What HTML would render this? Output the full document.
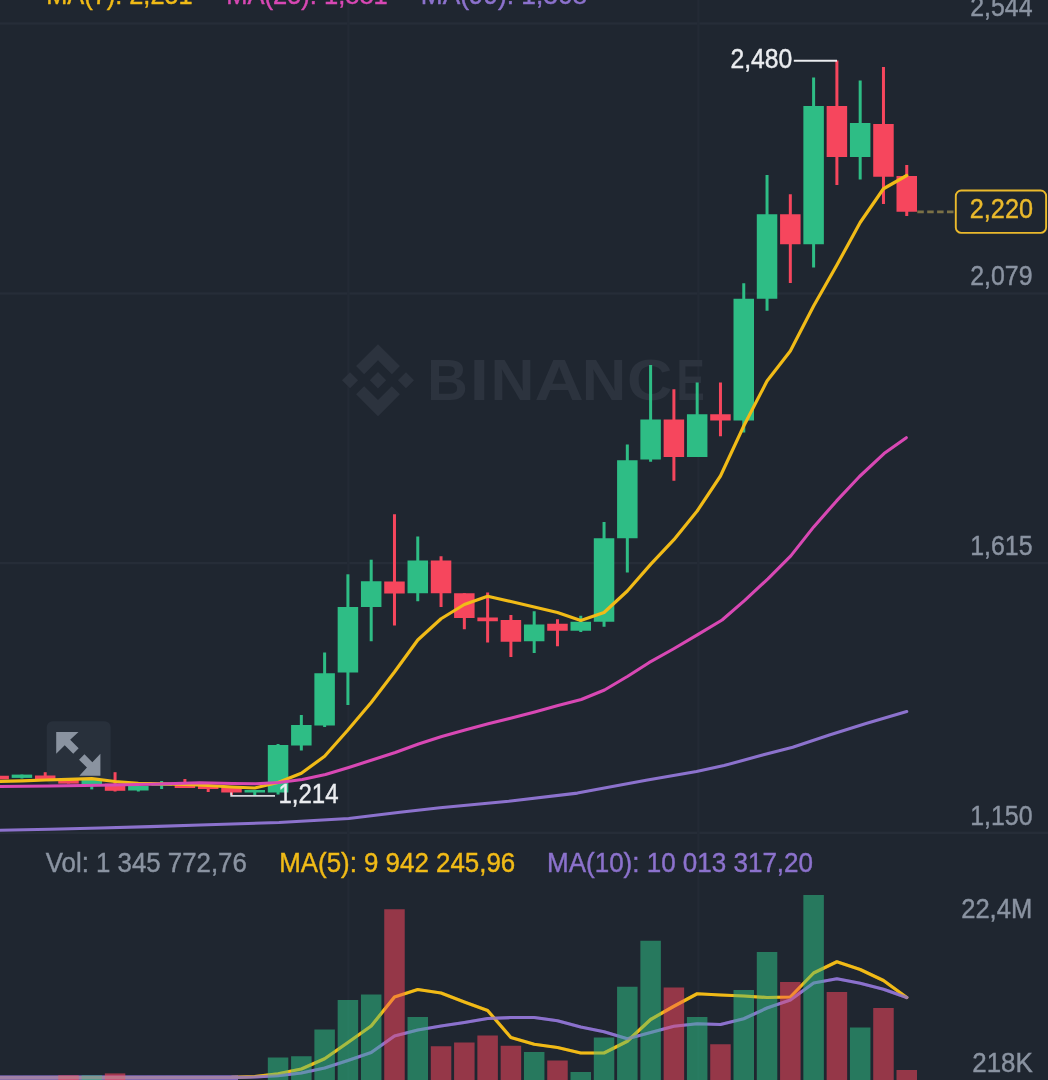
<!DOCTYPE html>
<html><head><meta charset="utf-8"><title>Chart</title>
<style>
html,body{margin:0;padding:0;background:#1f2630;}
body{width:1048px;height:1080px;overflow:hidden;font-family:"Liberation Sans",sans-serif;}
svg{display:block;position:absolute;left:0;top:0;}
svg.ov{will-change:transform;}
text{font-family:"Liberation Sans",sans-serif;}
.t{stroke-width:0.45px;paint-order:stroke;}
</style></head><body>
<svg width="1048" height="1080" viewBox="0 0 1048 1080">
<rect width="1048" height="1080" fill="#1f2630"/>
<rect x="0" y="22.3" width="1048" height="2.4" fill="#262d38"/>
<rect x="0" y="292.3" width="1048" height="2.4" fill="#262d38"/>
<rect x="0" y="561.9" width="1048" height="2.4" fill="#262d38"/>
<rect x="0" y="831.6" width="1048" height="2.4" fill="#262d38"/>
<rect x="347.1" y="0" width="2.4" height="1080" fill="#232a35"/>
<rect x="697.0999999999999" y="0" width="2.4" height="1080" fill="#232a35"/>
<g fill="#2c333e" transform="translate(378,380.2) scale(0.572)">
<path d="M-24.2,-10.6 L0,-34.8 L24.2,-10.6 L38.3,-24.7 L0,-63 L-38.3,-24.7 Z"/>
<path d="M-63,0 L-48.9,-14.1 L-34.8,0 L-48.9,14.1 Z"/>
<path d="M-24.2,10.6 L0,34.8 L24.2,10.6 L38.3,24.7 L0,63 L-38.3,24.7 Z"/>
<path d="M34.8,0 L48.9,-14.1 L63,0 L48.9,14.1 Z"/>
<path d="M14.3,0 L0,-14.3 L-10.6,-3.7 L-11.8,-2.5 L-14.3,0 L0,14.3 Z"/>
</g>
<text transform="translate(427.19,400.4) scale(0.968,1)" font-size="58" font-weight="bold" fill="#2c333e">B</text><text transform="translate(469.85,400.4) scale(1.189,1)" font-size="58" font-weight="bold" fill="#2c333e">I</text><text transform="translate(490.39,400.4) scale(1.048,1)" font-size="58" font-weight="bold" fill="#2c333e">N</text><text transform="translate(534.56,400.4) scale(1.175,1)" font-size="58" font-weight="bold" fill="#2c333e">A</text><text transform="translate(581.73,400.4) scale(1.063,1)" font-size="58" font-weight="bold" fill="#2c333e">N</text><text transform="translate(627.12,400.4) scale(1.084,1)" font-size="58" font-weight="bold" fill="#2c333e">C</text><text transform="translate(676.60,400.4) scale(0.730,1)" font-size="58" font-weight="bold" fill="#2c333e">E</text>
<rect x="46.7" y="721.2" width="64" height="64" rx="6" fill="#28303b"/>
<g fill="#8a93a0">
<path d="M56.2,731.9 L78.5,731.9 L70.15,739.8 L78.65,748.3 L73.25,753.7 L64.75,745.2 L56.2,753.8 Z"/>
<path d="M100.4,775.7 L79.4,775.7 L86.95,767.6 L79.05,759.7 L84.45,754.3 L92.35,762.2 L100.4,753.8 Z"/>
</g>
<rect x="905.25" y="165" width="3" height="51" fill="#f6465d"/>
<rect x="896.5" y="176" width="20.5" height="35.75" fill="#f6465d"/>
<rect x="881.965" y="67" width="3" height="137" fill="#f6465d"/>
<rect x="873.215" y="124" width="20.5" height="52.75" fill="#f6465d"/>
<rect x="858.68" y="80.5" width="3" height="99" fill="#2ebd85"/>
<rect x="849.93" y="123" width="20.5" height="34" fill="#2ebd85"/>
<rect x="835.395" y="60.5" width="3" height="124.5" fill="#f6465d"/>
<rect x="826.645" y="106" width="20.5" height="51" fill="#f6465d"/>
<rect x="812.11" y="77.5" width="3" height="190" fill="#2ebd85"/>
<rect x="803.36" y="106" width="20.5" height="138.25" fill="#2ebd85"/>
<rect x="788.825" y="194.25" width="3" height="88.75" fill="#f6465d"/>
<rect x="780.075" y="214.25" width="20.5" height="30" fill="#f6465d"/>
<rect x="765.54" y="175" width="3" height="135.75" fill="#2ebd85"/>
<rect x="756.79" y="214.25" width="20.5" height="84.5" fill="#2ebd85"/>
<rect x="742.255" y="283.25" width="3" height="149.25" fill="#2ebd85"/>
<rect x="733.505" y="298.75" width="20.5" height="121.75" fill="#2ebd85"/>
<rect x="718.97" y="382.5" width="3" height="53.75" fill="#f6465d"/>
<rect x="710.22" y="414.25" width="20.5" height="6.25" fill="#f6465d"/>
<rect x="695.685" y="382.5" width="3" height="74.5" fill="#2ebd85"/>
<rect x="686.935" y="414.25" width="20.5" height="42.75" fill="#2ebd85"/>
<rect x="672.4" y="389.25" width="3" height="91.5" fill="#f6465d"/>
<rect x="663.65" y="419.5" width="20.5" height="37.5" fill="#f6465d"/>
<rect x="649.115" y="365" width="3" height="96.75" fill="#2ebd85"/>
<rect x="640.365" y="419.5" width="20.5" height="40" fill="#2ebd85"/>
<rect x="625.83" y="444.5" width="3" height="128" fill="#2ebd85"/>
<rect x="617.08" y="460.25" width="20.5" height="78" fill="#2ebd85"/>
<rect x="602.545" y="522" width="3" height="104.75" fill="#2ebd85"/>
<rect x="593.795" y="538.25" width="20.5" height="83.5" fill="#2ebd85"/>
<rect x="579.26" y="615.75" width="3" height="16.25" fill="#2ebd85"/>
<rect x="570.51" y="621.75" width="20.5" height="9" fill="#2ebd85"/>
<rect x="555.975" y="619.25" width="3" height="27" fill="#f6465d"/>
<rect x="547.225" y="623.75" width="20.5" height="7" fill="#f6465d"/>
<rect x="532.69" y="611.25" width="3" height="41.75" fill="#2ebd85"/>
<rect x="523.94" y="624.5" width="20.5" height="16.75" fill="#2ebd85"/>
<rect x="509.405" y="615" width="3" height="42" fill="#f6465d"/>
<rect x="500.655" y="620" width="20.5" height="21.75" fill="#f6465d"/>
<rect x="486.12" y="592.5" width="3" height="50" fill="#f6465d"/>
<rect x="477.37" y="617.5" width="20.5" height="3.75" fill="#f6465d"/>
<rect x="462.835" y="593.25" width="3" height="36" fill="#f6465d"/>
<rect x="454.085" y="593.25" width="20.5" height="24.75" fill="#f6465d"/>
<rect x="439.55" y="556.25" width="3" height="50.75" fill="#f6465d"/>
<rect x="430.8" y="560.5" width="20.5" height="32.75" fill="#f6465d"/>
<rect x="416.265" y="536.5" width="3" height="64.75" fill="#2ebd85"/>
<rect x="407.515" y="560.5" width="20.5" height="32.75" fill="#2ebd85"/>
<rect x="392.98" y="514.25" width="3" height="111.25" fill="#f6465d"/>
<rect x="384.23" y="581.5" width="20.5" height="12" fill="#f6465d"/>
<rect x="369.695" y="559.7" width="3" height="81.55" fill="#2ebd85"/>
<rect x="360.945" y="581.25" width="20.5" height="25.75" fill="#2ebd85"/>
<rect x="346.41" y="574.3" width="3" height="130.7" fill="#2ebd85"/>
<rect x="337.66" y="607" width="20.5" height="65.5" fill="#2ebd85"/>
<rect x="323.125" y="652.5" width="3" height="74.5" fill="#2ebd85"/>
<rect x="314.375" y="673.25" width="20.5" height="52.25" fill="#2ebd85"/>
<rect x="299.84" y="715" width="3" height="35.5" fill="#2ebd85"/>
<rect x="291.09" y="725" width="20.5" height="20.5" fill="#2ebd85"/>
<rect x="276.555" y="744" width="3" height="50.5" fill="#2ebd85"/>
<rect x="267.805" y="745" width="20.5" height="47.5" fill="#2ebd85"/>
<rect x="253.27" y="790" width="3" height="5" fill="#2ebd85"/>
<rect x="244.52" y="790" width="20.5" height="2.5" fill="#2ebd85"/>
<rect x="229.985" y="787" width="3" height="8" fill="#f6465d"/>
<rect x="221.235" y="787" width="20.5" height="5.5" fill="#f6465d"/>
<rect x="206.7" y="785" width="3" height="7" fill="#f6465d"/>
<rect x="197.95" y="785" width="20.5" height="4" fill="#f6465d"/>
<rect x="183.415" y="779" width="3" height="9" fill="#f6465d"/>
<rect x="174.665" y="783" width="20.5" height="5" fill="#f6465d"/>
<rect x="160.13" y="781" width="3" height="8" fill="#2ebd85"/>
<rect x="151.38" y="784.5" width="20.5" height="1.2" fill="#2ebd85"/>
<rect x="136.845" y="786" width="3" height="5.5" fill="#2ebd85"/>
<rect x="128.095" y="786" width="20.5" height="4.5" fill="#2ebd85"/>
<rect x="113.56" y="772.2" width="3" height="19.3" fill="#f6465d"/>
<rect x="104.81" y="783.6" width="20.5" height="7.2" fill="#f6465d"/>
<rect x="90.275" y="779" width="3" height="10.4" fill="#2ebd85"/>
<rect x="81.525" y="779" width="20.5" height="6" fill="#2ebd85"/>
<rect x="66.99" y="778" width="3" height="5.6" fill="#f6465d"/>
<rect x="58.24" y="779.3" width="20.5" height="4.3" fill="#f6465d"/>
<rect x="43.705" y="772.2" width="3" height="7.1" fill="#f6465d"/>
<rect x="34.955" y="775.5" width="20.5" height="3.8" fill="#f6465d"/>
<rect x="20.42" y="774.6" width="3" height="3.9" fill="#2ebd85"/>
<rect x="11.67" y="774.6" width="20.5" height="3.3" fill="#2ebd85"/>
<rect x="-2.865" y="775.75" width="3" height="3.55" fill="#f6465d"/>
<rect x="-11.615" y="775.75" width="20.5" height="3.55" fill="#f6465d"/>
<polyline points="906.75,175.5 883.465,188.75 860.18,222.5 836.895,265 813.61,306 790.325,351 767.04,381 743.755,426 720.47,476 697.185,511 673.9,539.7 650.615,564.4 627.33,591 604.045,612.5 580.76,620.5 557.475,612.5 534.19,607 510.905,601.5 487.62,596.25 464.335,604.5 441.05,618.75 417.765,640 394.48,672 371.195,702.5 347.91,730 324.625,756.25 301.34,773.25 278.055,782.5 254.77,788 231.485,787 208.2,785.5 184.915,784.5 161.63,783.8 138.345,783.3 115.06,781.5 91.775,778.6 68.49,779.3 45.205,780 21.92,780.8 -1.365,781.5" fill="none" stroke="#f1bb17" stroke-width="3.2" stroke-linejoin="round" stroke-linecap="round" />
<polyline points="906.3,437.7 884,453.6 859.5,476.5 836.6,500.9 813.7,526.9 790.8,555.9 767.9,578.8 745,600.2 722.1,620 697.7,634.7 673.3,649 648.9,662.7 627.75,676.25 604.5,690 581.25,699.5 558,705.5 534.75,712 511.5,718 488.25,723.75 465,730 441.75,736.5 418.5,744 395.25,752.5 372,760 348.75,767.5 325.5,774.5 302.25,779.5 279,782.5 255.75,783.75 232.5,783.5 200,782.8 150,784.3 100,785.3 50,786 0,786.5" fill="none" stroke="#d848b4" stroke-width="3.1" stroke-linejoin="round" stroke-linecap="round" />
<polyline points="906.75,711.5 866,723.4 829.4,734.9 792.7,747.3 760.7,755.5 724,765.6 696.5,771.5 646.1,780.2 577.4,793.1 508.7,801.3 440,807.7 400,812.3 348.75,818.5 279,822.5 200,825 150,826.6 100,828 50,829.2 0,830.3" fill="none" stroke="#8c72cd" stroke-width="3.1" stroke-linejoin="round" stroke-linecap="round" />
<polyline points="906.75,997.5 883.465,980.5 860.18,969.5 836.895,961.75 813.61,973 790.325,997 767.04,997.5 743.755,996 720.47,995 697.185,993.75 673.9,1006.25 650.615,1019.5 627.33,1041.25 604.045,1053 580.76,1053 557.475,1047.5 534.19,1044.25 510.905,1037.5 487.62,1010.5 464.335,1002 441.05,993 417.765,989.5 394.48,997 371.195,1026 347.91,1042.5 324.625,1058.75 301.34,1069 278.055,1073.75 254.77,1076.5 231.485,1077.3 -1.365,1077.6" fill="none" stroke="#f1bb17" stroke-width="3.2" stroke-linejoin="round" stroke-linecap="round" />
<polyline points="906.75,997.5 883.465,989.25 860.18,983.25 836.895,978.75 813.61,983 790.325,1000 767.04,1008 743.755,1018.75 720.47,1024.5 697.185,1023.75 673.9,1026.25 650.615,1032.5 627.33,1038.75 604.045,1031.75 580.76,1027 557.475,1020.75 534.19,1017.5 510.905,1017.5 487.62,1018.5 464.335,1022.5 441.05,1026 417.765,1030 394.48,1036 371.195,1052.5 347.91,1060.5 324.625,1068 301.34,1073 278.055,1075.75 254.77,1077 231.485,1077.4 -1.365,1077.5" fill="none" stroke="#8c72cd" stroke-width="3.2" stroke-linejoin="round" stroke-linecap="round" />
<rect x="896.5" y="1070" width="20.5" height="12" fill="#f6465d" fill-opacity="0.55"/>
<rect x="873.215" y="1008" width="20.5" height="74" fill="#f6465d" fill-opacity="0.55"/>
<rect x="849.93" y="1027.5" width="20.5" height="54.5" fill="#2ebd85" fill-opacity="0.55"/>
<rect x="826.645" y="992" width="20.5" height="90" fill="#f6465d" fill-opacity="0.55"/>
<rect x="803.36" y="895" width="20.5" height="187" fill="#2ebd85" fill-opacity="0.55"/>
<rect x="780.075" y="982" width="20.5" height="100" fill="#f6465d" fill-opacity="0.55"/>
<rect x="756.79" y="952" width="20.5" height="130" fill="#2ebd85" fill-opacity="0.55"/>
<rect x="733.505" y="990" width="20.5" height="92" fill="#2ebd85" fill-opacity="0.55"/>
<rect x="710.22" y="1044.25" width="20.5" height="37.75" fill="#f6465d" fill-opacity="0.55"/>
<rect x="686.935" y="1017" width="20.5" height="65" fill="#2ebd85" fill-opacity="0.55"/>
<rect x="663.65" y="987.5" width="20.5" height="94.5" fill="#f6465d" fill-opacity="0.55"/>
<rect x="640.365" y="940.75" width="20.5" height="141.25" fill="#2ebd85" fill-opacity="0.55"/>
<rect x="617.08" y="986.75" width="20.5" height="95.25" fill="#2ebd85" fill-opacity="0.55"/>
<rect x="593.795" y="1037.5" width="20.5" height="44.5" fill="#2ebd85" fill-opacity="0.55"/>
<rect x="570.51" y="1072" width="20.5" height="10" fill="#2ebd85" fill-opacity="0.55"/>
<rect x="547.225" y="1060.5" width="20.5" height="21.5" fill="#f6465d" fill-opacity="0.55"/>
<rect x="523.94" y="1052" width="20.5" height="30" fill="#2ebd85" fill-opacity="0.55"/>
<rect x="500.655" y="1045.75" width="20.5" height="36.25" fill="#f6465d" fill-opacity="0.55"/>
<rect x="477.37" y="1035.5" width="20.5" height="46.5" fill="#f6465d" fill-opacity="0.55"/>
<rect x="454.085" y="1042.5" width="20.5" height="39.5" fill="#f6465d" fill-opacity="0.55"/>
<rect x="430.8" y="1046.25" width="20.5" height="35.75" fill="#f6465d" fill-opacity="0.55"/>
<rect x="407.515" y="1017" width="20.5" height="65" fill="#2ebd85" fill-opacity="0.55"/>
<rect x="384.23" y="909.25" width="20.5" height="172.75" fill="#f6465d" fill-opacity="0.55"/>
<rect x="360.945" y="994.5" width="20.5" height="87.5" fill="#2ebd85" fill-opacity="0.55"/>
<rect x="337.66" y="1000" width="20.5" height="82" fill="#2ebd85" fill-opacity="0.55"/>
<rect x="314.375" y="1029.5" width="20.5" height="52.5" fill="#2ebd85" fill-opacity="0.55"/>
<rect x="291.09" y="1056.25" width="20.5" height="25.75" fill="#2ebd85" fill-opacity="0.55"/>
<rect x="267.805" y="1057.5" width="20.5" height="24.5" fill="#2ebd85" fill-opacity="0.55"/>
<rect x="0" y="1075.3" width="238" height="5" fill="#8c72cd" opacity="0.85"/>
<rect x="104.81" y="1073.4" width="20.5" height="7.6" fill="#f6465d" fill-opacity="0.6"/>
<rect x="81.525" y="1075.3" width="20.5" height="5.7" fill="#2ebd85" fill-opacity="0.6"/>
<rect x="58.24" y="1075.3" width="20.5" height="5.7" fill="#f6465d" fill-opacity="0.6"/>
<polyline points="906.75,997.5 883.465,980.5 860.18,969.5 836.895,961.75 813.61,973 790.325,997 767.04,997.5 743.755,996 720.47,995 697.185,993.75 673.9,1006.25 650.615,1019.5 627.33,1041.25 604.045,1053 580.76,1053 557.475,1047.5 534.19,1044.25 510.905,1037.5 487.62,1010.5 464.335,1002 441.05,993 417.765,989.5 394.48,997 371.195,1026 347.91,1042.5 324.625,1058.75 301.34,1069 278.055,1073.75 254.77,1076.5 231.485,1077.3 -1.365,1077.6" fill="none" stroke="#f1bb17" stroke-width="3.2" stroke-linejoin="round" stroke-linecap="round" opacity="0.3"/>
<polyline points="906.75,997.5 883.465,989.25 860.18,983.25 836.895,978.75 813.61,983 790.325,1000 767.04,1008 743.755,1018.75 720.47,1024.5 697.185,1023.75 673.9,1026.25 650.615,1032.5 627.33,1038.75 604.045,1031.75 580.76,1027 557.475,1020.75 534.19,1017.5 510.905,1017.5 487.62,1018.5 464.335,1022.5 441.05,1026 417.765,1030 394.48,1036 371.195,1052.5 347.91,1060.5 324.625,1068 301.34,1073 278.055,1075.75 254.77,1077 231.485,1077.4 -1.365,1077.5" fill="none" stroke="#8c72cd" stroke-width="3.2" stroke-linejoin="round" stroke-linecap="round" opacity="0.3"/>
</svg>
<svg class="ov" width="1048" height="1080" viewBox="0 0 1048 1080">
<path d="M793.8,60.7 H837" stroke="#eaecef" stroke-width="2" fill="none"/>
<text x="730.5" y="67.9" font-size="28" class="t" fill="#eaecef" stroke="#eaecef" textLength="61.8" lengthAdjust="spacingAndGlyphs">2,480</text>
<path d="M231.2,792.5 V795.8 H275" stroke="#d5d8dc" stroke-width="1.8" fill="none"/>
<text x="278.5" y="803.3" font-size="28" class="t" fill="#eaecef" stroke="#eaecef" textLength="60" lengthAdjust="spacingAndGlyphs">1,214</text>
<text x="970.2" y="16" font-size="28" class="t" fill="#8a93a1" stroke="#8a93a1" textLength="62.3" lengthAdjust="spacingAndGlyphs">2,544</text>
<text x="970.2" y="285" font-size="28" class="t" fill="#8a93a1" stroke="#8a93a1" textLength="62.3" lengthAdjust="spacingAndGlyphs">2,079</text>
<text x="970.2" y="554.5" font-size="28" class="t" fill="#8a93a1" stroke="#8a93a1" textLength="62.3" lengthAdjust="spacingAndGlyphs">1,615</text>
<text x="970.2" y="824.5" font-size="28" class="t" fill="#8a93a1" stroke="#8a93a1" textLength="62.3" lengthAdjust="spacingAndGlyphs">1,150</text>
<path d="M917.3,211.9 H955" stroke="#7b7146" stroke-width="2.6" stroke-dasharray="6.5,3.4" fill="none"/>
<rect x="955.8" y="190.5" width="90.3" height="42.4" rx="5.5" fill="#1f2630" stroke="#eab92c" stroke-width="1.9"/>
<text x="969.8" y="218.4" font-size="28" class="t" fill="#eab92c" stroke="#eab92c" textLength="63.2" lengthAdjust="spacingAndGlyphs">2,220</text>
<text x="46.2" y="4.4" font-size="27" class="t" fill="#f1bb17" stroke="#f1bb17" textLength="146.5" lengthAdjust="spacingAndGlyphs">MA(7): 2,251</text>
<text x="226.3" y="4.4" font-size="27" class="t" fill="#d848b4" stroke="#d848b4" textLength="161.5" lengthAdjust="spacingAndGlyphs">MA(25): 1,881</text>
<text x="420.8" y="4.4" font-size="27" class="t" fill="#8c72cd" stroke="#8c72cd" textLength="166.2" lengthAdjust="spacingAndGlyphs">MA(99): 1,368</text>
<text x="45.8" y="872.2" font-size="28" class="t" fill="#8a93a1" stroke="#8a93a1" textLength="201" lengthAdjust="spacingAndGlyphs">Vol: 1 345 772,76</text>
<text x="279.2" y="872.2" font-size="28" class="t" fill="#f1bb17" stroke="#f1bb17" textLength="236" lengthAdjust="spacingAndGlyphs">MA(5): 9 942 245,96</text>
<text x="547" y="872.2" font-size="28" class="t" fill="#8c72cd" stroke="#8c72cd" textLength="266" lengthAdjust="spacingAndGlyphs">MA(10): 10 013 317,20</text>
<text x="961.2" y="918.3" font-size="28" class="t" fill="#8a93a1" stroke="#8a93a1" textLength="71" lengthAdjust="spacingAndGlyphs">22,4M</text>
<text x="972.3" y="1072.3" font-size="28" class="t" fill="#8a93a1" stroke="#8a93a1" textLength="60.5" lengthAdjust="spacingAndGlyphs">218K</text>
</svg></body></html>
